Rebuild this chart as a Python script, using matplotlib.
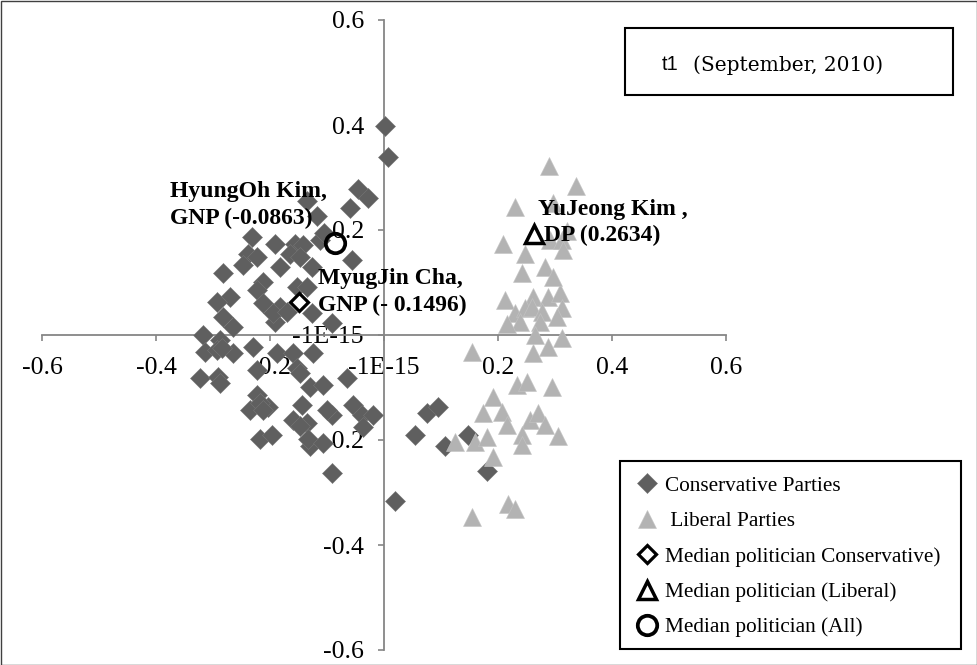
import matplotlib
matplotlib.use("Agg")
import matplotlib.pyplot as plt
from matplotlib.patches import Rectangle

# ideal points
cons_x = [0.002, 0.007, -0.046, -0.028, -0.135, -0.060, -0.118, -0.112, -0.056, -0.232,
          -0.191, -0.156, -0.142, -0.239, -0.223, -0.165, -0.147, -0.247, -0.282, -0.182,
          -0.126, -0.212, -0.223, -0.153, -0.135, -0.270, -0.293, -0.212, -0.182, -0.282,
          -0.265, -0.191, -0.126, -0.091, -0.318, -0.288, -0.195, -0.170, -0.105,
          -0.314, -0.293, -0.265, -0.230, -0.188, -0.160, -0.125, -0.323, -0.291, -0.288,
          -0.223, -0.153, -0.147, -0.130, -0.107, -0.065, -0.223, -0.235, -0.204, -0.218,
          -0.144, -0.160, -0.135, -0.091, -0.054, -0.039, -0.019, -0.037, -0.218, -0.196,
          -0.130, -0.133, -0.107, -0.091, 0.019, 0.075, 0.095, 0.054, 0.107, 0.147,
          0.181, -0.284, -0.212, -0.100, -0.147]
cons_y = [0.398, 0.339, 0.279, 0.260, 0.256, 0.241, 0.227, 0.180, 0.142, 0.186,
          0.174, 0.174, 0.171, 0.155, 0.148, 0.155, 0.148, 0.133, 0.118, 0.129,
          0.129, 0.100, 0.085, 0.091, 0.091, 0.072, 0.063, 0.061, 0.053, 0.034,
          0.015, 0.025, 0.042, 0.023, 0.000, -0.009, 0.042, 0.044, 0.195,
          -0.032, -0.028, -0.034, -0.023, -0.034, -0.034, -0.034, -0.082, -0.080, -0.091,
          -0.066, -0.063, -0.072, -0.099, -0.095, -0.082, -0.114, -0.142, -0.138, -0.129,
          -0.133, -0.161, -0.167, -0.152, -0.133, -0.152, -0.152, -0.176, -0.199, -0.190,
          -0.212, -0.199, -0.205, -0.262, -0.317, -0.148, -0.138, -0.190, -0.212, -0.190,
          -0.260, -0.025, -0.142, -0.142, -0.174]

lib_x = [0.289, 0.337, 0.230, 0.296, 0.209, 0.247, 0.291, 0.312, 0.321, 0.314,
         0.282, 0.242, 0.212, 0.261, 0.288, 0.309, 0.230, 0.247, 0.260, 0.277,
         0.312, 0.239, 0.274, 0.304, 0.265, 0.312, 0.288, 0.261, 0.154, 0.233,
         0.251, 0.295, 0.191, 0.174, 0.207, 0.216, 0.256, 0.270, 0.282, 0.242,
         0.242, 0.305, 0.125, 0.160, 0.181, 0.191, 0.218, 0.230, 0.154, 0.215,
         0.296]
lib_y = [0.322, 0.284, 0.243, 0.252, 0.174, 0.155, 0.180, 0.180, 0.199, 0.161,
         0.129, 0.118, 0.066, 0.072, 0.072, 0.080, 0.042, 0.051, 0.053, 0.044,
         0.051, 0.025, 0.025, 0.034, 0.000, -0.006, -0.023, -0.034, -0.032, -0.095,
         -0.089, -0.099, -0.119, -0.148, -0.146, -0.171, -0.161, -0.148, -0.171, -0.190,
         -0.209, -0.193, -0.203, -0.203, -0.195, -0.233, -0.322, -0.332, -0.347, 0.020,
         0.110]

med_cons = (-0.1496, 0.063)
med_lib = (0.2634, 0.193)
med_all = (-0.0863, 0.176)

ticks = [-0.6, -0.4, -0.2, 0.0, 0.2, 0.4, 0.6]
tick_labels = ["-0.6", "-0.4", "-0.2", "-1E-15", "0.2", "0.4", "0.6"]

serif = "Liberation Serif"
W, H = 978, 665

fig = plt.figure(figsize=(W / 100, H / 100), dpi=100)
ax = fig.add_axes([42 / W, 1 - 650 / H, 684 / W, 630 / H])

ax.plot(cons_x, cons_y, linestyle="none", marker="D", markersize=9.8,
        color="#5f5f5f", markeredgecolor="#767676", markeredgewidth=0.4,
        label="Conservative Parties", zorder=3)
ax.plot(lib_x, lib_y, linestyle="none", marker="^", markersize=13.5,
        color="#b3b3b3", markeredgecolor="#c4c4c4", markeredgewidth=0.4,
        label=" Liberal Parties", zorder=4)
ax.plot(*med_cons, linestyle="none", marker="D", markersize=9.5,
        markerfacecolor="white", markeredgecolor="black", markeredgewidth=2.3,
        label="Median politician Conservative)", zorder=5)
ax.plot(*med_lib, linestyle="none", marker="^", markersize=13.5,
        markerfacecolor="white", markeredgecolor="black", markeredgewidth=2.5,
        label="Median politician (Liberal)", zorder=5)
ax.plot(*med_all, linestyle="none", marker="o", markersize=14,
        markerfacecolor="none", markeredgecolor="black", markeredgewidth=2.7,
        label="Median politician (All)", zorder=5)

lab = dict(textcoords="offset points", fontsize=17, fontweight="bold",
           family=serif, ha="left", va="center", linespacing=1.35, zorder=6)
ax.annotate("HyungOh Kim,\nGNP (-0.0863)", med_all, xytext=(-119, 27), **lab)
ax.annotate("MyugJin Cha,\nGNP (- 0.1496)", med_cons, xytext=(14, 7), **lab)
ax.annotate("YuJeong Kim ,\n DP (0.2634)", med_lib, xytext=(3, 8), **lab)

ax.set_xlim(-0.6, 0.6)
ax.set_ylim(-0.6, 0.6)
ax.set_xticks(ticks)
ax.set_xticklabels(tick_labels)
ax.set_yticks(ticks)
ax.set_yticklabels(tick_labels)
for s in ["top", "right"]:
    ax.spines[s].set_visible(False)
for s in ["left", "bottom"]:
    ax.spines[s].set_position("zero")
    ax.spines[s].set_color("#868686")
    ax.spines[s].set_linewidth(1.3)
    ax.spines[s].set_zorder(2)
ax.tick_params(direction="out", length=4.5, width=1.2, color="#868686",
               labelsize=18.5)
ax.tick_params(axis="x", pad=11)
ax.tick_params(axis="y", pad=10)
for t in ax.get_xticklabels() + ax.get_yticklabels():
    t.set_family(serif)
ax.patch.set_alpha(0)

# title box
fig.patches.append(Rectangle((625 / W, 1 - 95 / H), 328 / W, 67 / H,
                             transform=fig.transFigure, fill=False,
                             edgecolor="black", linewidth=1.5))
fig.text(679 / W, 1 - 65 / H, "t1", ha="right", va="center",
         fontsize=14.5, family="Liberation Sans")
fig.text(883 / W, 1 - 65 / H, "(September, 2010)", ha="right", va="center",
         fontsize=14.5, family="DejaVu Serif")

# legend: entries without frame, box drawn separately
leg = fig.legend(loc="upper left", bbox_to_anchor=(634 / W, 1 - 476 / H),
                 prop={"family": serif, "size": 15.3}, frameon=False,
                 borderpad=0, labelspacing=0.73,
                 handlelength=1.2, handletextpad=0.25, borderaxespad=0)
fig.patches.append(Rectangle((620 / W, 1 - 649 / H), 341 / W, 188 / H,
                             transform=fig.transFigure, fill=True,
                             facecolor="white", edgecolor="black",
                             linewidth=1.5, zorder=0))

# outer chart border
fig.patches.append(Rectangle((0.5 / W, 0.5 / H), 1 - 1.5 / W, 1 - 1.5 / H,
                             transform=fig.transFigure, fill=False,
                             edgecolor="#404040", linewidth=1))

fig.savefig("out.png", dpi=100)
